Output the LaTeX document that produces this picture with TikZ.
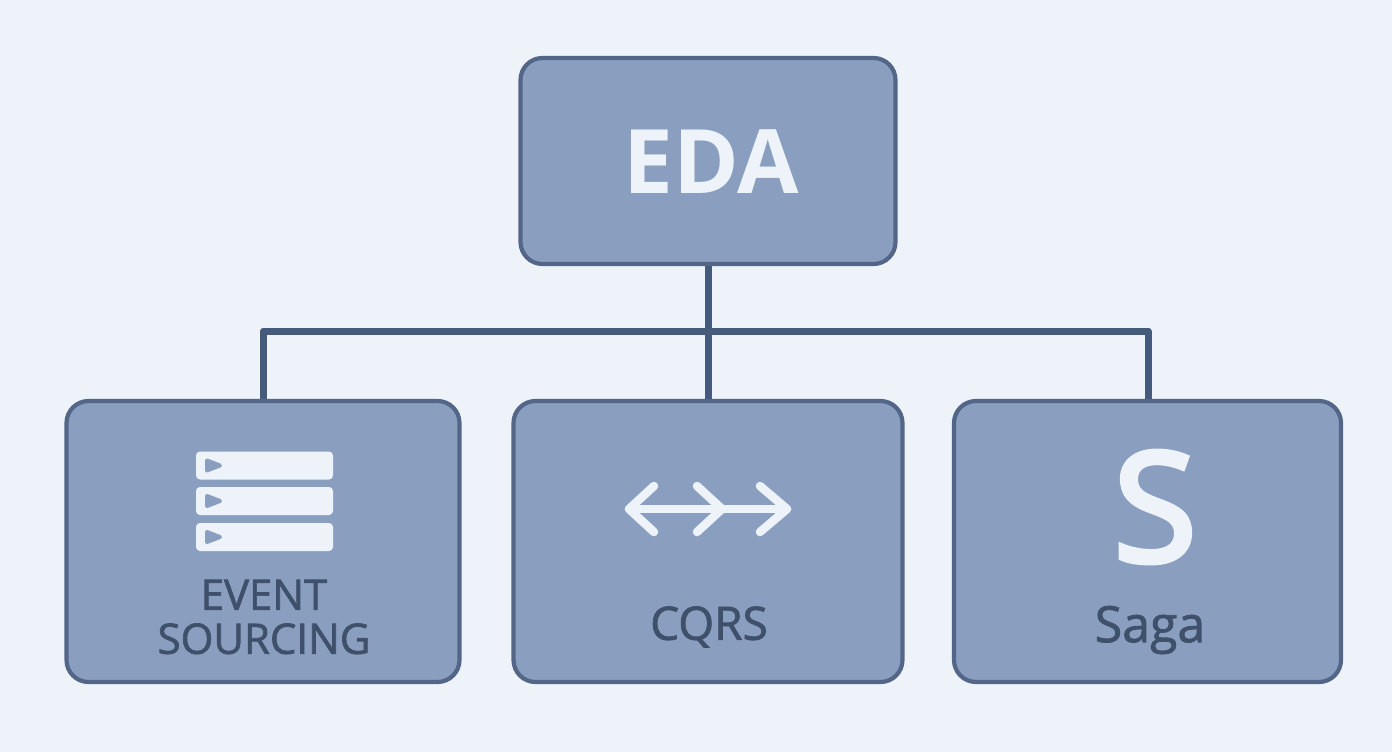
\documentclass[tikz,border=0pt]{standalone}
\usepackage{fontspec}
\setmainfont{Open Sans}
\newfontfamily\labfont[FakeBold=1.6]{Open Sans}
\newfontfamily\midfont[FakeBold=3.5]{Open Sans}
\definecolor{bgc}{HTML}{EEF3F9}
\definecolor{boxc}{HTML}{8A9FC0}
\definecolor{linec}{HTML}{536688}
\definecolor{wirec}{HTML}{465A7C}
\definecolor{lightc}{HTML}{EDF3F9}
\definecolor{darkt}{HTML}{3F506B}
\tikzset{
 px/.style={x=1pt,y=-1pt},
 cardbox/.style={draw=linec,line width=4.2pt,fill=boxc,rounded corners=22pt,minimum width=#1,inner sep=0pt},
 link/.style={draw=wirec,line width=7pt},
 bar/.style={fill=lightc,rounded corners=4pt},
 tick/.style={fill=boxc,draw=boxc,line width=4pt,line join=round},
 arrowline/.style={draw=lightc,line width=8.5pt,line cap=round,line join=round},
 lab/.style={text=darkt,align=center}
}
\begin{document}
\begin{tikzpicture}[px]
\useasboundingbox (0,0) rectangle (1392,752);
\fill[bgc] (0,0) rectangle (1392,752);
\coordinate (j) at (708,331);
\coordinate (jl) at (263,331);
\coordinate (jr) at (1148,331);
\coordinate (edab) at (708,262);
\coordinate (cqt) at (708,404);
\coordinate (est) at (263,404);
\coordinate (sat) at (1148,404);
\draw[link] (edab) -- (cqt);
\draw[link,line join=round] (est) -- (jl) -- (jr) -- (sat);
\node[cardbox=375pt,minimum height=206pt] (eda) at (708,161) {};
\node[cardbox=393pt,minimum height=281pt] (es) at (263,541.5) {};
\node[cardbox=389pt,minimum height=281pt] (cq) at (708,541.5) {};
\node[cardbox=387pt,minimum height=281pt] (sa) at (1147.5,541.5) {};
\node[text=lightc,font=\bfseries\fontsize{89}{89}\selectfont] (t0) at (711,162) {EDA};
\foreach \y in {465.5,501,537}{
 \fill[bar] (196,\y-14) rectangle (333,\y+14);
 \fill[tick,draw] (207,\y-5) -- (220,\y) -- (207,\y+5) -- cycle;
}
\draw[arrowline] (629,509) -- (787,509);
\draw[arrowline] (654,486) -- (629,509) -- (654,532);
\draw[arrowline] (697,486) -- (722,509) -- (697,532);
\draw[arrowline] (760,486) -- (787,509) -- (760,532);
\node[text=lightc,font=\midfont\fontsize{152}{152}\selectfont] (s) at (1155,507) {S};
\node[lab,font=\labfont\fontsize{42}{44}\selectfont] (l1) at (264,617) {EVENT\\SOURCING};
\node[lab,font=\labfont\fontsize{46}{46}\selectfont] (l2) at (709,627) {CQRS};
\node[lab,font=\labfont\fontsize{50}{50}\selectfont] (l3) at (1150,630) {Saga};
\end{tikzpicture}
\end{document}
